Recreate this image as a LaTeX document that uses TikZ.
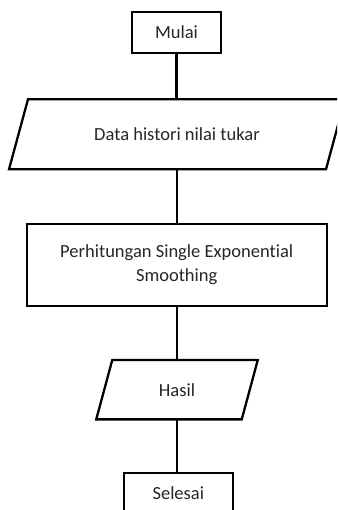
\documentclass[tikz,border=0pt]{standalone}
\usepackage{fontspec}
\setmainfont{Carlito}[Ligatures=NoCommon]
\begin{document}
\begin{tikzpicture}[x=1pt,y=-1pt,
  every node/.style={font=\fontsize{18.5pt}{24pt}\selectfont, text=black!85},
  lw/.style={line width=2.3pt, draw=black},
  boxnode/.style={lw, rectangle, inner sep=0pt, align=center},
  paranode/.style={rectangle, inner sep=0pt, outer sep=0pt, align=center},
  conn/.style={lw}]
\useasboundingbox (0,0) rectangle (337,510);
\clip (0,0) rectangle (337,510);
\fill[white] (0,0) rectangle (337,510);
% nodes
\node[boxnode, minimum width=89pt, minimum height=41pt] (mulai) at (176.5,32.5) {Mulai};
\node[paranode, minimum width=317pt, minimum height=70pt] (data) at (177,134.3) {Data histori nilai tukar};
\node[boxnode, minimum width=300pt, minimum height=82pt] (hitung) at (176.7,265) {Perhitungan Single Exponential\\Smoothing};
\node[paranode, minimum width=145.5pt, minimum height=59.3pt] (hasil) at (177,389.7) {Hasil};
\node[boxnode, minimum width=108.7pt, minimum height=41pt] (selesai) at (178.3,493.2) {Selesai};
% parallelograms
\draw[lw] ([xshift=-9.5pt]data.south west) -- ([xshift=9.5pt]data.north west) -- ([xshift=9.5pt]data.north east) -- ([xshift=-9.5pt]data.south east) -- cycle;
\draw[lw] ([xshift=-8pt]hasil.south west) -- ([xshift=8pt]hasil.north west) -- ([xshift=8pt]hasil.north east) -- ([xshift=-8pt]hasil.south east) -- cycle;
% connectors
\draw[conn] (mulai.south) -- (mulai.south |- data.north);
\draw[conn] (data.south -| hitung.north) -- (hitung.north);
\draw[conn] (hitung.south) -- (hitung.south |- hasil.north);
\draw[conn] (hasil.south -| hitung.south) -- (hitung.south |- selesai.north);
\end{tikzpicture}
\end{document}
